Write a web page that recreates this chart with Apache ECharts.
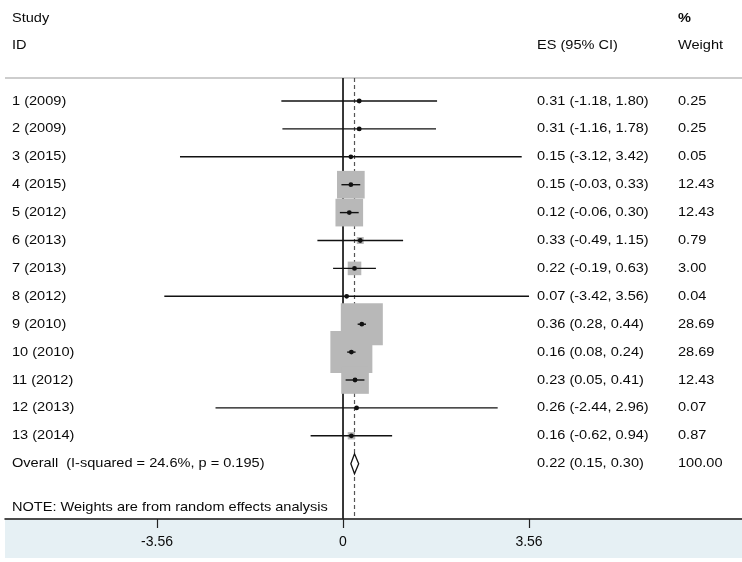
<!DOCTYPE html>
<html>
<head>
<meta charset="utf-8">
<script src="https://cdn.jsdelivr.net/npm/echarts@6/dist/echarts.min.js"></script>
<style>html,body{margin:0;padding:0;background:#fff}#c{width:742px;height:562px}</style>
</head>
<body>
<div id="c"></div>
<script>
// ---- data ----
const studies = ["1 (2009)","2 (2009)","3 (2015)","4 (2015)","5 (2012)","6 (2013)","7 (2013)","8 (2012)","9 (2010)","10 (2010)","11 (2012)","12 (2013)","13 (2014)"];
const es    = [0.31, 0.31, 0.15, 0.15, 0.12, 0.33, 0.22, 0.07, 0.36, 0.16, 0.23, 0.26, 0.16];
const lower = [-1.18,-1.16,-3.12,-0.03,-0.06,-0.49,-0.19,-3.42, 0.28, 0.08, 0.05,-2.44,-0.62];
const upper = [1.80, 1.78, 3.42, 0.33, 0.30, 1.15, 0.63, 3.56, 0.44, 0.24, 0.41, 2.96, 0.94];
const weights = [0.25,0.25,0.05,12.43,12.43,0.79,3.00,0.04,28.69,28.69,12.43,0.07,0.87];
const overallLabel = "Overall  (I-squared = 24.6%, p = 0.195)";
const overallES = 0.22, overallLo = 0.15, overallHi = 0.30, overallW = 100.00;
const xTicks = [-3.56, 0, 3.56];
const xTickLabels = ["-3.56", "0", "3.56"];
const noteText = "NOTE: Weights are from random effects analysis";

// ---- layout ----
const FONT = "Liberation Sans, Arial, sans-serif";
const TXT = "#0a0a0a";
const SX = 1.12;
const fmt = v => v.toFixed(2);
const rowsData = studies.map((s,i)=>[i, es[i], lower[i], upper[i], weights[i]]);
const textRows = studies.map((s,i)=>[i, s, fmt(es[i])+" ("+fmt(lower[i])+", "+fmt(upper[i])+")", fmt(weights[i])]);
textRows.push([studies.length, overallLabel, fmt(overallES)+" ("+fmt(overallLo)+", "+fmt(overallHi)+")", fmt(overallW)]);
const overallIdx = studies.length;
const yMin = -3.62, yMax = 14.982, lineTop = -0.824;
const maxW = Math.max(...weights);

function txt(x, y, s, bold){
  return {type:'text', x:x, y:y, scaleX:SX, style:{text:s, fill:TXT, font:(bold?'bold ':'')+'13px '+FONT, verticalAlign:'middle'}};
}

const chart = echarts.init(document.getElementById('c'), null, {renderer:'canvas'});
chart.setOption({
  animation:false,
  backgroundColor:'#fff',
  textStyle:{fontFamily:FONT},
  grid:{left:5, right:0, top:0, bottom:43},
  xAxis:{type:'value', min:-6.469, max:7.636,
    axisLine:{show:true, onZero:false, lineStyle:{color:'#111', width:1.5}},
    axisTick:{show:true, customValues:xTicks, length:9, lineStyle:{color:'#222', width:1.2}},
    axisLabel:{show:true, customValues:xTicks, margin:16, color:TXT, fontSize:14, fontFamily:FONT,
      formatter:v=>{const k=xTicks.findIndex(t=>Math.abs(t-v)<1e-6);return k>=0?xTickLabels[k]:'';}},
    splitLine:{show:false}},
  yAxis:{type:'value', inverse:true, min:yMin, max:yMax, show:false},
  graphic:[
    {type:'rect', z:-10, shape:{x:5, y:520, width:737, height:38}, style:{fill:'#e6f0f4'}},
    {type:'line', shape:{x1:5, y1:78, x2:742, y2:78}, style:{stroke:'#bdbdbd', lineWidth:1.5}},
    txt(12, 18, 'Study'),
    txt(12, 45, 'ID'),
    txt(537, 45, 'ES (95% CI)'),
    txt(678, 18, '%', true),
    txt(678, 45, 'Weight'),
    txt(12, 507, noteText)
  ],
  series:[
    { // reference lines
      type:'custom', z:1, data:[[0,0],[overallES,1]], encode:{x:0,y:1},
      renderItem:(p,api)=>{
        const x=api.value(0), t=api.coord([x,lineTop]), b=api.coord([x,yMax]);
        const solid = api.value(1)===0;
        return {type:'line', shape:{x1:t[0],y1:t[1],x2:b[0],y2:b[1]},
          style:{stroke: solid?'#222':'#555', lineWidth: solid?1.8:1.2, lineDash: solid?null:[4,3]}};
      }
    },
    { // weight boxes
      type:'custom', z:2, data:rowsData, encode:{x:1,y:0},
      renderItem:(p,api)=>{
        const c=api.coord([api.value(1),api.value(0)]);
        const s=42*Math.sqrt(api.value(4)/maxW);
        return {type:'rect', shape:{x:c[0]-s/2,y:c[1]-s/2,width:s,height:s}, style:{fill:'#b8b8b8'}};
      }
    },
    { // CI lines + points
      type:'custom', z:3, data:rowsData, encode:{x:1,y:0},
      renderItem:(p,api)=>{
        const c=api.coord([api.value(1),api.value(0)]);
        const l=api.coord([api.value(2),api.value(0)]);
        const h=api.coord([api.value(3),api.value(0)]);
        return {type:'group', children:[
          {type:'line', shape:{x1:l[0],y1:l[1],x2:h[0],y2:h[1]}, style:{stroke:'#111',lineWidth:1.4}},
          {type:'circle', shape:{cx:c[0],cy:c[1],r:2.4}, style:{fill:'#111'}}
        ]};
      }
    },
    { // overall diamond
      type:'custom', z:4, data:[[overallIdx, overallES, overallLo, overallHi]], encode:{x:1,y:0},
      renderItem:(p,api)=>{
        const c=api.coord([api.value(1),api.value(0)]);
        const l=api.coord([api.value(2),api.value(0)]);
        const h=api.coord([api.value(3),api.value(0)]);
        return {type:'polygon', shape:{points:[[l[0],c[1]],[c[0],c[1]-10],[h[0],c[1]],[c[0],c[1]+10]]},
          style:{fill:'#fff', stroke:'#111', lineWidth:1.3}};
      }
    },
    { // text columns
      type:'custom', z:5, data:textRows.map(r=>[0,r[0]]), encode:{x:0,y:1},
      renderItem:(p,api)=>{
        const i=p.dataIndex, r=textRows[i];
        const y=api.coord([0,api.value(1)])[1];
        return {type:'group', children:[txt(12,y,r[1]), txt(537,y,r[2]), txt(678,y,r[3])]};
      }
    }
  ]
});
</script>
</body>
</html>
